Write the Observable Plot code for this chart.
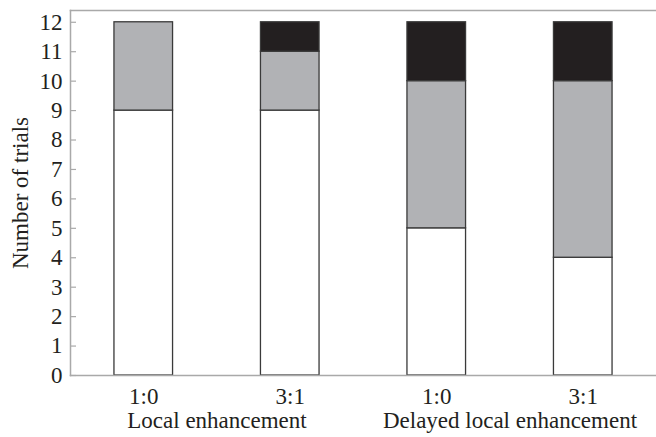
<!DOCTYPE html>
<html><head><meta charset="utf-8">
<script src="https://cdn.jsdelivr.net/npm/d3@7"></script>
<script src="https://cdn.jsdelivr.net/npm/@observablehq/plot@0.6"></script>
<style>
html,body{margin:0;padding:0;background:#fff;}
#chart{width:656px;height:437px;overflow:hidden;}
</style>
</head><body><div id="chart"></div>
<script>
// ---- data ----
const groups = ["Local enhancement", "Local enhancement", "Delayed local enhancement", "Delayed local enhancement"];
const ratios = ["1:0", "3:1", "1:0", "3:1"];
const outcomes = ["Outcome A", "Outcome B", "Outcome C"]; // bottom (white), middle (grey), top (black)
const outcomeA = [9, 9, 5, 4];
const outcomeB = [3, 2, 5, 6];
const outcomeC = [0, 1, 2, 2];
const yTicks = [0, 1, 2, 3, 4, 5, 6, 7, 8, 9, 10, 11, 12];
const groupNames = ["Local enhancement", "Delayed local enhancement"];
const yLabel = "Number of trials";

// ---- build tables ----
const barKeys = groups.map((g, i) => g + " " + ratios[i]);
const series = [outcomeA, outcomeB, outcomeC];
const table = [];
barKeys.forEach((k, i) => {
  outcomes.forEach((o, j) => {
    if (series[j][i] > 0) table.push({bar: k, outcome: o, value: series[j][i]});
  });
});
const groupTable = groupNames.map(g => ({group: g, first: barKeys[groups.indexOf(g)]}));

const font = "'Liberation Serif', 'Times New Roman', serif";
const FS = 23;
const W = 656, H = 437;
const ML = 70, MR = 0, MT = 10, MB = 62;

const xScale = {type: "band", domain: barKeys, paddingInner: 0.6, paddingOuter: 0.3, round: false};
const yScale = {domain: [0, 12.4]};

// measure band step from the library's own scale
const probe = Plot.plot({width: W, height: H, marginLeft: ML, marginRight: MR, marginTop: MT, marginBottom: MB,
  x: xScale, y: yScale, marks: [Plot.barY(table, {x: "bar", y: "value"})]});
const step = probe.scale("x").step;

const chart = Plot.plot({
  width: W, height: H,
  marginLeft: ML, marginRight: MR, marginTop: MT, marginBottom: MB,
  style: {fontFamily: font, fontSize: FS + "px", color: "#231f20", background: "#fff"},
  x: xScale,
  y: yScale,
  color: {domain: outcomes, range: ["#ffffff", "#b1b2b5", "#231f20"]},
  marks: [
    Plot.barY(table, {x: "bar", y: "value", fill: "outcome", stroke: "#3a3a3a", strokeWidth: 1.3}),
    Plot.frame({anchor: "top", stroke: "#a9a9a9", strokeWidth: 1.5}),
    Plot.frame({anchor: "left", stroke: "#a9a9a9", strokeWidth: 1.5}),
    Plot.frame({anchor: "bottom", stroke: "#a9a9a9", strokeWidth: 1.5}),
    Plot.axisY({ticks: yTicks, tickSize: -6, tickPadding: 14, stroke: "#a9a9a9", strokeWidth: 1.2,
      fill: "#231f20", fontSize: FS, label: null}),
    Plot.axisX({tickSize: 0, tickPadding: 12, tickFormat: d => ratios[barKeys.indexOf(d)], fontSize: FS, label: null, fill: "#231f20"}),
    Plot.text(groupTable, {x: "first", text: "group", frameAnchor: "bottom", dx: step / 2, dy: 52, fontSize: FS, fill: "#231f20"}),
    Plot.text([yLabel], {text: d => d, frameAnchor: "left", rotate: -90, textAnchor: "middle", dx: -50, fontSize: FS, fill: "#231f20"})
  ]
});
document.getElementById("chart").appendChild(chart);
</script>
</body></html>
